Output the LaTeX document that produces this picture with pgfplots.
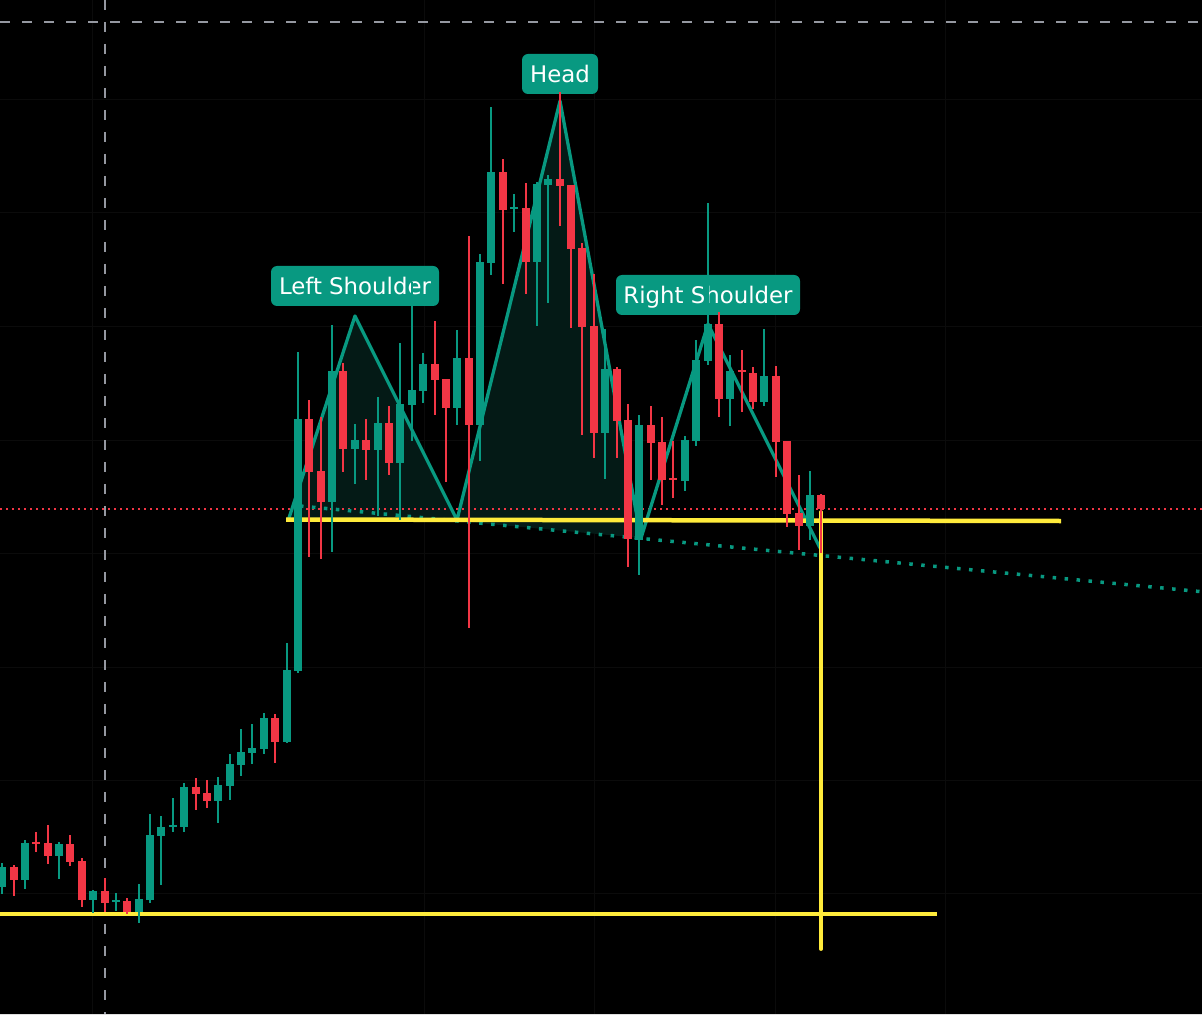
\documentclass[border=0pt]{standalone}
\usepackage{pgfplots}
\pgfplotsset{compat=1.18}
\usepackage{pgfplotstable}
\usepackage{fontspec}
\newfontfamily\lab{DejaVu Sans}
\definecolor{cgreen}{RGB}{8,153,129}
\definecolor{cred}{RGB}{242,54,69}
\definecolor{cyel}{RGB}{255,235,59}
\definecolor{cgray}{RGB}{149,152,161}
\definecolor{cfill}{RGB}{4,26,22}
\definecolor{cgrid}{RGB}{11,11,11}

\pgfplotstableread{
x t b h l
2 867 887 863 894
25 843 880 840 889
59 844 856 842 879
93 891 900 890 913
116 900 902 893 911
139 899 912 884 923
150 835 900 814 903
161 827 836 816 885
173 825 827 798 832
184 787 827 783 832
218 785 801 777 823
230 764 786 754 800
241 752 765 729 776
252 748 753 724 764
264 718 749 713 754
287 670 742 643 743
298 419 671 352 673
332 371 502 325 552
355 440 449 424 484
378 423 450 397 516
400 404 463 343 520
412 390 405 282 441
423 364 391 353 403
457 358 408 330 425
480 262 425 254 461
491 172 263 107 275
514 207 209 194 232
537 184 262 182 326
548 179 185 175 303
605 369 433 329 479
639 425 540 415 575
685 440 481 436 491
696 360 441 340 446
708 324 361 203 365
730 371 399 355 426
764 376 402 329 406
810 495 526 471 540
}\greendata

\pgfplotstableread{
x t b h l
14 867 880 865 896
36 842 844 832 852
48 843 856 825 864
70 844 862 835 866
82 861 900 858 907
105 891 903 878 912
127 901 912 898 914
196 787 794 778 810
207 793 801 780 808
275 718 742 714 763
309 419 472 400 557
321 471 502 417 559
343 371 449 363 472
366 440 450 419 480
389 423 463 406 475
435 364 380 321 415
446 379 408 379 482
469 358 425 236 628
503 172 210 159 284
526 208 262 183 294
560 179 186 92 226
571 185 249 185 328
582 248 327 243 435
594 326 433 274 458
617 369 421 367 458
628 420 539 404 567
651 425 443 406 480
662 442 480 417 505
673 478 480 441 498
719 324 399 312 417
742 370 372 350 412
753 373 402 367 409
776 376 442 366 477
787 441 514 441 527
799 513 526 475 550
821 495 509 494 553
}\reddata

\begin{document}
\begin{tikzpicture}
\begin{axis}[
  scale only axis,
  width=120.2mm, height=101.4mm,
  xmin=0, xmax=1202, ymin=0, ymax=1014,
  y dir=reverse,
  axis line style={draw=none},
  xtick=\empty, ytick=\empty,
  axis background/.style={fill=black},
  clip=true,
]
% background
\addplot[fill=black, draw=none, forget plot] coordinates {(0,0) (1202,0) (1202,1014) (0,1014) (0,0)};
% faint grid
\addplot[cgrid, line width=0.1mm, forget plot] coordinates {(92,0) (92,1014)};
\addplot[cgrid, line width=0.1mm, forget plot] coordinates {(424,0) (424,1014)};
\addplot[cgrid, line width=0.1mm, forget plot] coordinates {(594,0) (594,1014)};
\addplot[cgrid, line width=0.1mm, forget plot] coordinates {(775,0) (775,1014)};
\addplot[cgrid, line width=0.1mm, forget plot] coordinates {(945,0) (945,1014)};
\addplot[cgrid, line width=0.1mm, forget plot] coordinates {(0,100) (1202,100)};
\addplot[cgrid, line width=0.1mm, forget plot] coordinates {(0,213) (1202,213)};
\addplot[cgrid, line width=0.1mm, forget plot] coordinates {(0,327) (1202,327)};
\addplot[cgrid, line width=0.1mm, forget plot] coordinates {(0,440) (1202,440)};
\addplot[cgrid, line width=0.1mm, forget plot] coordinates {(0,553) (1202,553)};
\addplot[cgrid, line width=0.1mm, forget plot] coordinates {(0,667) (1202,667)};
\addplot[cgrid, line width=0.1mm, forget plot] coordinates {(0,780) (1202,780)};
\addplot[cgrid, line width=0.1mm, forget plot] coordinates {(0,893) (1202,893)};
% crosshair
\addplot[cgray, line width=0.15mm, dash pattern=on 1mm off 1.2mm, forget plot] coordinates {(105,0) (105,1014)};
\addplot[cgray, line width=0.15mm, dash pattern=on 1mm off 1.2mm, forget plot] coordinates {(0,22) (1202,22)};
% pattern fills
\addplot[fill=cfill, draw=none, forget plot] coordinates {(288,521) (355,316) (457,521) (288,521)};
\addplot[fill=cfill, draw=none, forget plot] coordinates {(457,521) (560,101) (641,538) (457,521)};
% red dotted price line
\addplot[cred, line width=0.2mm, dash pattern=on 0.2mm off 0.4mm, forget plot] coordinates {(0,509) (1202,509)};
% teal dotted neckline
\addplot[cgreen, line width=0.35mm, dash pattern=on 0.35mm off 0.85mm, forget plot] coordinates {(300,506) (1210,592.5)};
% pattern polyline
\addplot[cgreen, line width=0.33mm, line join=round, forget plot] coordinates {(288,521) (355,316) (457,520) (560,101) (641,538) (708,324) (820,548)};
% yellow lines
\addplot[cyel, line width=0.45mm, forget plot] coordinates {(286,519.5) (1061,521)};
\addplot[cyel, line width=0.45mm, forget plot] coordinates {(0,914) (937,914)};
\addplot[cyel, line width=0.38mm, line cap=round, forget plot] coordinates {(821,512) (821,949)};
% labels
\node[fill=cgreen, rounded corners=0.6mm, minimum width=16.8mm, minimum height=4mm, inner sep=0pt, text=white, text height=1.67mm, text depth=0mm, font=\lab\fontsize{6.5}{7}\selectfont] at (axis cs:355,286) {Left Shoulder};
\node[fill=cgreen, rounded corners=0.6mm, minimum width=7.6mm, minimum height=4mm, inner sep=0pt, text=white, text height=1.67mm, text depth=0mm, font=\lab\fontsize{6.5}{7}\selectfont] at (axis cs:560,74) {Head};
\node[fill=cgreen, rounded corners=0.6mm, minimum width=18.4mm, minimum height=4mm, inner sep=0pt, text=white, text height=1.67mm, text depth=0mm, font=\lab\fontsize{6.5}{7}\selectfont] at (axis cs:708,295) {Right Shoulder};
% candles: wicks then bodies
\addplot[draw=none, no markers, forget plot,
  error bars/.cd, y dir=both, y explicit, error mark=none,
  error bar style={draw=cred, line width=0.18mm}]
  table[x=x, y expr={(\thisrow{h}+\thisrow{l})/2}, y error expr={(\thisrow{l}-\thisrow{h})/2}] {\reddata};
\addplot[draw=none, no markers, forget plot,
  error bars/.cd, y dir=both, y explicit, error mark=none,
  error bar style={draw=cred, line width=0.8mm}]
  table[x=x, y expr={(\thisrow{t}+\thisrow{b})/2}, y error expr={(\thisrow{b}-\thisrow{t})/2}] {\reddata};
\addplot[draw=none, no markers, forget plot,
  error bars/.cd, y dir=both, y explicit, error mark=none,
  error bar style={draw=cgreen, line width=0.18mm}]
  table[x=x, y expr={(\thisrow{h}+\thisrow{l})/2}, y error expr={(\thisrow{l}-\thisrow{h})/2}] {\greendata};
\addplot[draw=none, no markers, forget plot,
  error bars/.cd, y dir=both, y explicit, error mark=none,
  error bar style={draw=cgreen, line width=0.8mm}]
  table[x=x, y expr={(\thisrow{t}+\thisrow{b})/2}, y error expr={(\thisrow{b}-\thisrow{t})/2}] {\greendata};
\end{axis}
\pgfresetboundingbox
\path[use as bounding box] (current axis.south west) rectangle (current axis.north east);
\end{tikzpicture}
\end{document}
